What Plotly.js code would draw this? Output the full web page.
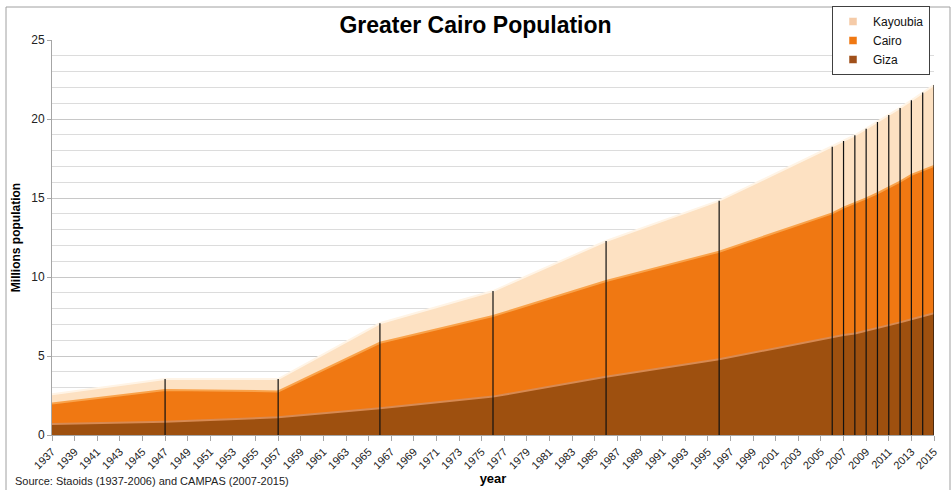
<!DOCTYPE html>
<html>
<head>
<meta charset="utf-8">
<script src="https://cdn.plot.ly/plotly-3.0.1.min.js"></script>
<style>
html,body{margin:0;padding:0;background:#fff;}
#chart{width:951px;height:490px;}
</style>
</head>
<body>
<div id="chart"></div>
<script>
// Census / estimate years
const years = [1937, 1947, 1957, 1966, 1976, 1986, 1996, 2006, 2007, 2008, 2009, 2010, 2011, 2012, 2013, 2014, 2015];
// Population in millions (stacked layers)
const giza     = [0.70, 0.84, 1.12, 1.69, 2.43, 3.69, 4.79, 6.22, 6.33, 6.43, 6.60, 6.75, 6.94, 7.13, 7.32, 7.49, 7.70];
const cairo    = [1.30, 2.01, 1.64, 4.15, 5.10, 6.06, 6.81, 7.81, 8.06, 8.23, 8.38, 8.55, 8.73, 8.90, 9.14, 9.28, 9.33];
const kayoubia = [0.58, 0.69, 0.78, 1.23, 1.58, 2.53, 3.23, 4.22, 4.21, 4.31, 4.41, 4.51, 4.58, 4.67, 4.72, 4.90, 5.12];
const seriesNames = ["Giza", "Cairo", "Kayoubia"];
const xTickLabels = [];
for (let y = 1937; y <= 2015; y += 2) xTickLabels.push(String(y));

const colGiza = "#9E500F", colCairo = "#F07812", colKay = "#FDE1C2";

// vertical census markers (from 0 to stack total), skipping the first year
const vx = [], vy = [];
for (let i = 1; i < years.length; i++) {
  const tot = giza[i] + cairo[i] + kayoubia[i];
  vx.push(years[i], years[i], null);
  vy.push(0, tot, null);
}

const font = "Liberation Sans, Arial, sans-serif";

const traces = [
  {x: years, y: giza, name: seriesNames[0], type: "scatter", mode: "lines", stackgroup: "pop",
   fillcolor: colGiza, line: {color: "#D88A52", width: 2}, showlegend: false},
  {x: years, y: cairo, name: seriesNames[1], type: "scatter", mode: "lines", stackgroup: "pop",
   fillcolor: colCairo, line: {color: "#F9A24A", width: 2}, showlegend: false},
  {x: years, y: kayoubia, name: seriesNames[2], type: "scatter", mode: "lines", stackgroup: "pop",
   fillcolor: colKay, line: {color: "#FFF4E6", width: 2}, showlegend: false},
  {x: vx, y: vy, type: "scatter", mode: "lines", line: {color: "#111", width: 1.2},
   showlegend: false, hoverinfo: "skip"},
  // legend entries
  {x: [null], y: [null], name: seriesNames[2], type: "scatter", mode: "markers",
   marker: {symbol: "square", size: 8, color: "#F5CBA8", line: {color: "#fff", width: 0.5}}},
  {x: [null], y: [null], name: seriesNames[1], type: "scatter", mode: "markers",
   marker: {symbol: "square", size: 8, color: "#F07812", line: {color: "#fff", width: 0.5}}},
  {x: [null], y: [null], name: seriesNames[0], type: "scatter", mode: "markers",
   marker: {symbol: "square", size: 8, color: "#A0501A", line: {color: "#fff", width: 0.5}}}
];

const layout = {
  width: 951, height: 490,
  margin: {l: 52, r: 17, t: 40, b: 55, autoexpand: false},
  paper_bgcolor: "#fff", plot_bgcolor: "#fff",
  font: {family: font, color: "#222"},
  title: {text: "<b>Greater Cairo Population</b>", font: {family: font, size: 23, color: "#000"},
          x: 0.5, xanchor: "center", y: 0.949, yanchor: "middle", yref: "container"},
  xaxis: {
    range: [1937, 2015], tickmode: "array", tickvals: xTickLabels.map(Number), ticktext: xTickLabels,
    tickangle: -45, tickfont: {size: 11, color: "#222"}, ticks: "outside", ticklen: 5, tickcolor: "#a6a6a6",
    showgrid: false, zeroline: false, showline: true, linecolor: "#a6a6a6",
    title: {text: "<b>year</b>", font: {size: 13, color: "#000"}, standoff: 0}
  },
  yaxis: {
    range: [0, 25], dtick: 5, tickfont: {size: 12, color: "#222"}, ticks: "outside", ticklen: 4, tickcolor: "#a6a6a6",
    showgrid: true, gridcolor: "#c8c8c8", gridwidth: 1,
    minor: {dtick: 1, showgrid: true, gridcolor: "#dcdcdc", gridwidth: 1},
    zeroline: false, showline: true, linecolor: "#a6a6a6",
    title: {text: "<b>Millions population</b>", font: {size: 12, color: "#000"}, standoff: 8}
  },
  legend: {x: (930 - 52) / 882, xanchor: "right", y: (435 - 6) / 395, yanchor: "top", bgcolor: "#fff",
           bordercolor: "#404040", borderwidth: 1, font: {size: 12, color: "#111"},
           itemwidth: 30, tracegroupgap: 0, traceorder: "normal"},
  showlegend: true,
  shapes: [
    {type: "rect", xref: "paper", yref: "paper",
     x0: (6 - 52) / 882, x1: (950 - 52) / 882, y0: (435 - 500) / 395, y1: (435 - 7) / 395,
     line: {color: "#a0a0a0", width: 1}, fillcolor: "rgba(0,0,0,0)", layer: "below"}
  ],
  annotations: [
    {text: "Source: Staoids (1937-2006) and CAMPAS (2007-2015)", xref: "paper", yref: "paper",
     x: (13 - 52) / 882, y: (435 - 481) / 395, xanchor: "left", yanchor: "middle", showarrow: false,
     font: {size: 11, color: "#222"}}
  ]
};

Plotly.newPlot("chart", traces, layout, {displayModeBar: false, staticPlot: true});
</script>
</body>
</html>
